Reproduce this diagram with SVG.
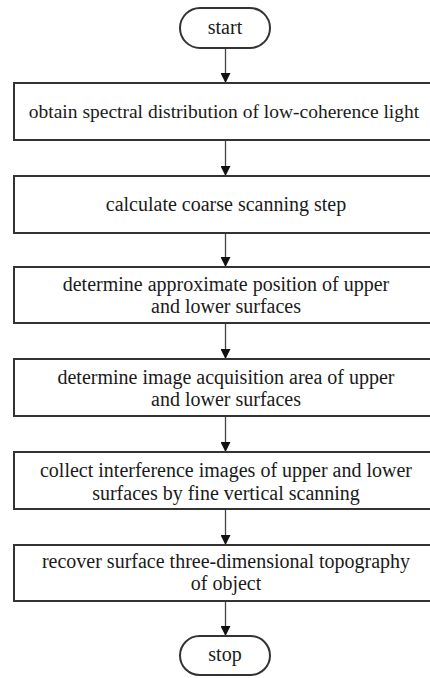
<svg xmlns="http://www.w3.org/2000/svg" width="430" height="678" viewBox="0 0 430 678">
<style>
.box{fill:#fff;stroke:#333;stroke-width:2}
.t{font-family:"Liberation Serif","Times New Roman",serif;font-size:20px;fill:#1a1a1a;text-anchor:middle}
.c{stroke:#444;stroke-width:1.3;fill:none}
</style>
<defs>
<marker id="ah" viewBox="0 0 10 10" refX="10" refY="5" markerWidth="10" markerHeight="10" markerUnits="userSpaceOnUse" orient="auto">
<path d="M0,0 L10,5 L0,10 Z" fill="#111"/>
</marker>
</defs>
<rect width="430" height="678" fill="#fff"/>
<g id="connectors">
<line class="c" x1="225.5" y1="48" x2="225.5" y2="83" marker-end="url(#ah)"/>
<line class="c" x1="225.5" y1="140" x2="225.5" y2="176" marker-end="url(#ah)"/>
<line class="c" x1="225.5" y1="233" x2="225.5" y2="267" marker-end="url(#ah)"/>
<line class="c" x1="225.5" y1="323" x2="225.5" y2="359" marker-end="url(#ah)"/>
<line class="c" x1="225.5" y1="416" x2="225.5" y2="452" marker-end="url(#ah)"/>
<line class="c" x1="225.5" y1="509" x2="225.5" y2="545" marker-end="url(#ah)"/>
<line class="c" x1="225.5" y1="601" x2="225.5" y2="636" marker-end="url(#ah)"/>
</g>
<g id="start">
<rect class="box" x="180" y="8" width="90" height="40" rx="20" ry="20"/>
<text class="t" x="225" y="34">start</text>
</g>
<g id="step1">
<rect class="box" x="14" y="83" width="423" height="57"/>
<text class="t" x="224" y="118" style="font-size:19.5px">obtain spectral distribution of low-coherence light</text>
</g>
<g id="step2">
<rect class="box" x="14" y="176" width="423" height="57"/>
<text class="t" x="226" y="211">calculate coarse scanning step</text>
</g>
<g id="step3">
<rect class="box" x="14" y="267" width="423" height="56"/>
<text class="t" x="226" y="291">determine approximate position of upper</text>
<text class="t" x="226" y="313">and lower surfaces</text>
</g>
<g id="step4">
<rect class="box" x="14" y="359" width="423" height="57"/>
<text class="t" x="226" y="384">determine image acquisition area of upper</text>
<text class="t" x="226" y="406">and lower surfaces</text>
</g>
<g id="step5">
<rect class="box" x="14" y="452" width="423" height="57"/>
<text class="t" x="226" y="477">collect interference images of upper and lower</text>
<text class="t" x="226" y="500">surfaces by fine vertical scanning</text>
</g>
<g id="step6">
<rect class="box" x="14" y="545" width="423" height="56"/>
<text class="t" x="226" y="568">recover surface three-dimensional topography</text>
<text class="t" x="226" y="590">of object</text>
</g>
<g id="stop">
<rect class="box" x="180" y="636" width="90" height="39" rx="19.5" ry="19.5"/>
<text class="t" x="225" y="661">stop</text>
</g>
</svg>
